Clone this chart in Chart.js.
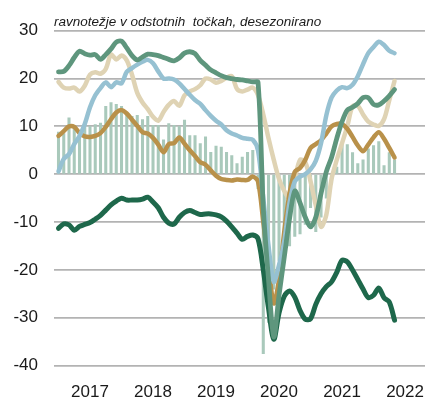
<!DOCTYPE html>
<html>
<head>
<meta charset="utf-8">
<script src="https://cdn.jsdelivr.net/npm/chart.js@4.4.1/dist/chart.umd.min.js"></script>
<style>
html,body{margin:0;padding:0;background:#fff;}
#wrap{width:427px;height:403px;}
</style>
</head>
<body>
<div id="wrap"><canvas id="c" width="427" height="403"></canvas></div>
<script>
// Monthly observations, Jan 2017 – May 2022
const months = [];
for (let y = 2017; y <= 2022; y++) {
  for (let m = 1; m <= 12; m++) {
    if (y === 2022 && m > 5) break;
    months.push(y + '-' + String(m).padStart(2, '0'));
  }
}
const yearLabels = ['2017', '2018', '2019', '2020', '2021', '2022'];
const yTicks = [30, 20, 10, 0, -10, -20, -30, -40];
const titleText = 'ravnotežje v odstotnih  točkah, desezonirano';

const barSeries = [8.8, 8.5, 11.8, 9.9, 7.5, 10.2, 10.0, 10.4, 10.7, 14.2, 15.0, 14.6, 14.2, 12.7, 12.1, 12.3,
  11.4, 12.1, 10.2, 10.2, 7.2, 10.6, 10.2, 10.0, 11.3, 8.1, 8.1, 6.4, 7.8, 4.6, 5.9, 5.7,
  4.6, 3.9, 2.2, 3.6, 4.6, 5.0, -3, -37.5, -31, -24, -18, -16, -15, -13, -12.5, -10.5,
  -7, -12, -9, -5, -2, 1.5, 6.2, 6.2, 4.5, 2.2, 3.0, 5.3, 6.0, 6.8, 1.8, 4.5, 3.0];

const darkGreen = [-11.3, -10.4, -10.6, -11.7, -10.9, -10.5, -10.1, -9.4, -8.6, -7.5, -6.4, -5.6, -5.0, -5.4, -5.4, -5.4,
  -5.2, -4.8, -5.8, -7.0, -9.0, -10.2, -10.4, -9.0, -8.0, -7.6, -8.0, -8.4, -8.3, -8.3, -8.5, -8.9,
  -9.8, -11.0, -12.3, -13.6, -13.0, -12.7, -13.5, -20, -28, -34.5, -29, -25.5, -24.4, -25.7, -28.5, -30.3,
  -30.2, -27.2, -25, -23.5, -22.5, -20.5, -18, -18.3, -20, -22, -24, -25.8, -25.3, -23.8, -25.8, -26.7, -30.5];

const midGreen = [21.4, 21.5, 22.7, 24.4, 25.7, 25.2, 24.9, 25.0, 24.0, 25.0, 26.2, 27.6, 27.8, 26.4, 24.8, 23.9,
  24.5, 25.1, 25.0, 24.8, 24.4, 24.0, 23.7, 24.3, 25.3, 25.6, 25.2, 23.8, 22.8, 21.8, 21.2, 20.6,
  20.2, 20.0, 19.8, 19.7, 19.5, 19.3, 19.2, -7, -22, -34, -25.3, -17.3, -9.3, -3.5, -6, -9,
  -11, -9, -4, 0.5, 3.5, 7.5, 11, 13.4, 14, 14.8, 16, 16, 14.6, 14.5, 15.3, 16.4, 17.7];

const lightBlue = [0.6, 3.2, 4.2, 6.3, 8.0, 10.5, 14.0, 16.5, 18.0, 19.2, 18.2, 19.2, 19.0, 21.4, 22.2, 22.9,
  23.5, 23.9, 23.2, 21.5, 20.0, 20.0, 19.8, 19.0, 17.8, 16.6, 15.5, 14.7, 13.4, 12.2, 11.2, 10.4,
  9.2, 8.5, 8.1, 7.6, 7.4, 7.2, 5.0, -5, -15, -22.5, -19, -14, -6, -1.5, -0.5, 0,
  1.0, 2.8, 6.5, 12.3, 16, 17.5, 18.2, 18, 18.7, 20.5, 23, 25.3, 26.6, 27.7, 27, 25.8, 25.3];

const beige = [19.3, 18.1, 17.9, 18.1, 17.3, 18.5, 20.8, 21.3, 21.0, 22.0, 25.0, 24.0, 24.8, 23.8, 20.8, 17.0,
  15.0, 13.6, 12.0, 11.2, 13.0, 14.5, 15.3, 14.3, 16.5, 17.3, 17.8, 18.6, 20.0, 19.8, 19.1, 19.5,
  20.2, 20.5, 17.8, 17.3, 17.7, 18.1, 16.5, 12.5, 7.5, 3.0, -1.0, -3.5, -5.0, -1.0, 3.0, 2.5,
  -1.5, -6.5, -11.0, -8.5, -1.0, 3.0, 6.5, 10.0, 14.2, 14.3, 12.5, 11.0, 10.4, 10.1, 11.5, 15.5, 19.5];

const ochre = [8.0, 9.0, 10.0, 9.9, 8.6, 7.9, 7.8, 8.0, 8.6, 9.9, 11.5, 12.9, 13.4, 12.7, 11.4, 10.1,
  8.8, 8.5, 7.6, 6.2, 4.6, 6.3, 6.5, 7.7, 6.4, 5.0, 3.8, 2.5, 2.0, 0.8, -0.3, -1.0,
  -1.2, -1.3, -1.1, -1.2, -1.2, -0.5, -1.5, -10, -19, -27, -22, -12, -4, 0.5, 1.3, 3.0,
  5.5, 6.3, 7.1, 8.5, 10.0, 10.5, 10.5, 9.5, 7.8, 6.0, 4.8, 6.2, 7.7, 8.8, 7.4, 5.5, 3.5];

const toXY = arr => arr.map((v, i) => ({ x: i, y: v }));
// year labels sit at the start of July of each year
const yearTickPos = yearLabels.map((y, k) => k * 12 + 6);

function line(data, color, width, order) {
  return {
    type: 'line', data: toXY(data), borderColor: color, backgroundColor: color,
    borderWidth: width, pointRadius: 0, tension: 0.3, fill: false,
    borderCapStyle: 'round', borderJoinStyle: 'round', order: order
  };
}

const FONT = 'Arial, "Liberation Sans", sans-serif';
const zeroPad = s => { s.paddingLeft = 0; s.paddingRight = 0; s.paddingTop = 0; s.paddingBottom = 0; };

new Chart(document.getElementById('c'), {
  type: 'bar',
  data: {
    datasets: [
      line(midGreen, '#5e967d', 4.8, 1),
      line(lightBlue, '#96c1d2', 4.5, 2),
      line(ochre, '#b9914a', 4.5, 3),
      line(beige, '#dfd3b4', 4.5, 4),
      line(darkGreen, '#1e684b', 5, 5),
      { type: 'bar', data: toXY(barSeries), backgroundColor: '#a9c9bb', barThickness: 2.4, order: 6 }
    ]
  },
  options: {
    responsive: false, animation: false, devicePixelRatio: 1,
    layout: { padding: { left: 13.5, right: 2, top: 0.5, bottom: 0 }, autoPadding: false },
    plugins: {
      legend: { display: false }, tooltip: { enabled: false },
      title: {
        display: true, text: titleText, align: 'start', fullSize: false,
        color: '#1a1a1a', font: { family: FONT, size: 13.5, style: 'italic', weight: 'normal', lineHeight: 1.2 },
        padding: { top: 14, bottom: 0 }
      }
    },
    scales: {
      x: {
        type: 'linear', min: -0.857, max: 69.8, offset: false,
        grid: { display: false, drawTicks: false }, border: { display: false },
        afterBuildTicks: s => { s.ticks = yearTickPos.map(v => ({ value: v })); },
        afterFit: s => { zeroPad(s); s.height = 37.4; },
        ticks: {
          autoSkip: false, maxRotation: 0, minRotation: 0, padding: 16.5, color: '#1a1a1a',
          font: { family: FONT, size: 17 },
          callback: (v) => { const k = yearTickPos.indexOf(v); return k >= 0 ? yearLabels[k] : ''; }
        }
      },
      y: {
        min: -40, max: 30,
        afterBuildTicks: s => { s.ticks = yTicks.map(v => ({ value: v })); },
        afterFit: s => { zeroPad(s); s.width = 40.5; },
        grid: { color: '#b3b3b3', lineWidth: 1.8, drawTicks: false }, border: { display: false },
        ticks: { padding: 16, color: '#1a1a1a', font: { family: FONT, size: 17 } }
      }
    }
  }
});
</script>
</body>
</html>
